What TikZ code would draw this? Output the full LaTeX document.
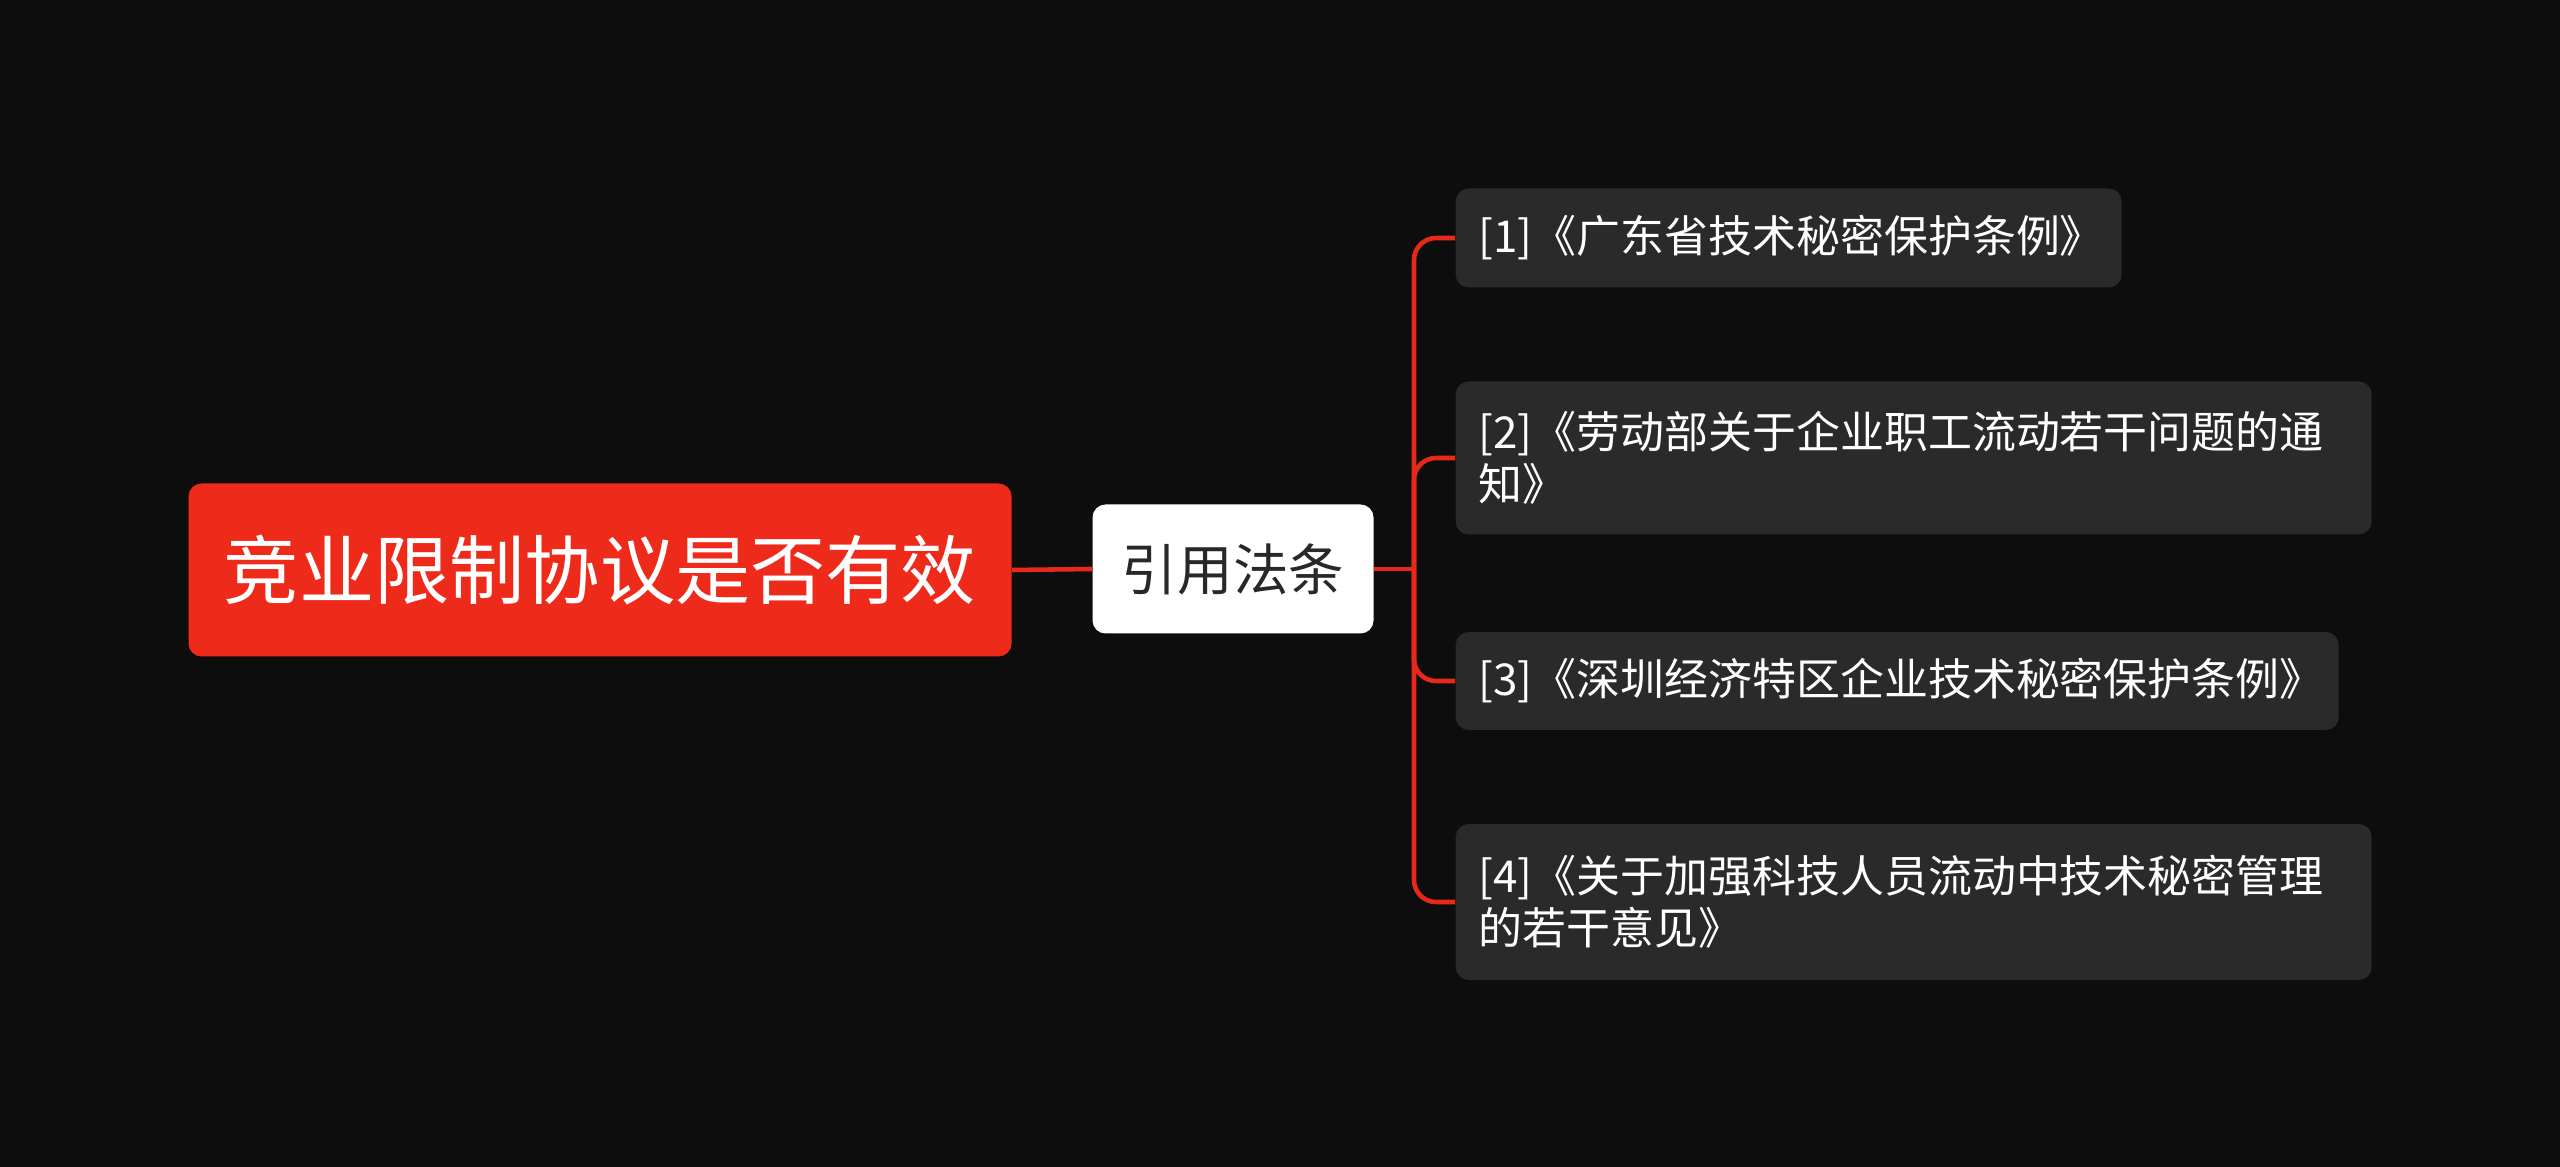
\documentclass[tikz,border=0pt]{standalone}
\usepackage{fontspec}
\setmainfont{Noto Sans CJK SC}
\usepackage{xcolor}
\usetikzlibrary{calc}
\definecolor{bgdark}{RGB}{13,13,13}
\definecolor{rootred}{RGB}{238,42,26}
\definecolor{leafgrey}{RGB}{42,42,42}
\definecolor{midtext}{RGB}{40,40,40}
\definecolor{linkred}{RGB}{232,40,24}

\begin{document}
\begin{tikzpicture}[
  rootbox/.style={fill=rootred,rounded corners=1.3mm,text=white,font=\fontsize{21.4}{25}\selectfont,
    minimum width=8.23cm,minimum height=1.73cm,inner sep=0pt},
  midbox/.style={fill=white,rounded corners=1.3mm,text=midtext,font=\fontsize{15.8}{19}\selectfont,
    minimum width=2.81cm,minimum height=1.29cm,inner sep=0pt},
  leafbox/.style={fill=leafgrey,rounded corners=1.3mm,text=white,font=\fontsize{12.5}{14.9}\selectfont,
    anchor=west,align=left,inner xsep=2.3mm,inner ysep=0pt,text width=#1},
  link/.style={linkred,line width=1.3pt}]
\useasboundingbox[fill=bgdark] (0,0) rectangle (25.6,-11.67);
\node[rootbox] (root) at (6.0,-5.70) {竞业限制协议是否有效};
\node[midbox] (law) at (12.33,-5.69) {引用法条};
\node[leafbox=6.2cm,minimum height=0.99cm] (l1) at (14.55,-2.38) {[1]《广东省技术秘密保护条例》};
\node[leafbox=8.7cm,minimum height=1.53cm] (l2) at (14.55,-4.58) {[2]《劳动部关于企业职工流动若干问题的通\\知》};
\node[leafbox=8.37cm,minimum height=0.98cm] (l3) at (14.55,-6.81) {[3]《深圳经济特区企业技术秘密保护条例》};
\node[leafbox=8.7cm,minimum height=1.56cm] (l4) at (14.55,-9.02) {[4]《关于加强科技人员流动中技术秘密管理\\的若干意见》};
\coordinate (split) at (14.14,-5.69);
\draw[link] (root.east) -- (law.west);
\draw[link] (law.east) -- (split);
\foreach \l in {l1,l2,l3,l4}
  \draw[link,rounded corners=2.2mm] (split) |- (\l.west);
\end{tikzpicture}
\end{document}
